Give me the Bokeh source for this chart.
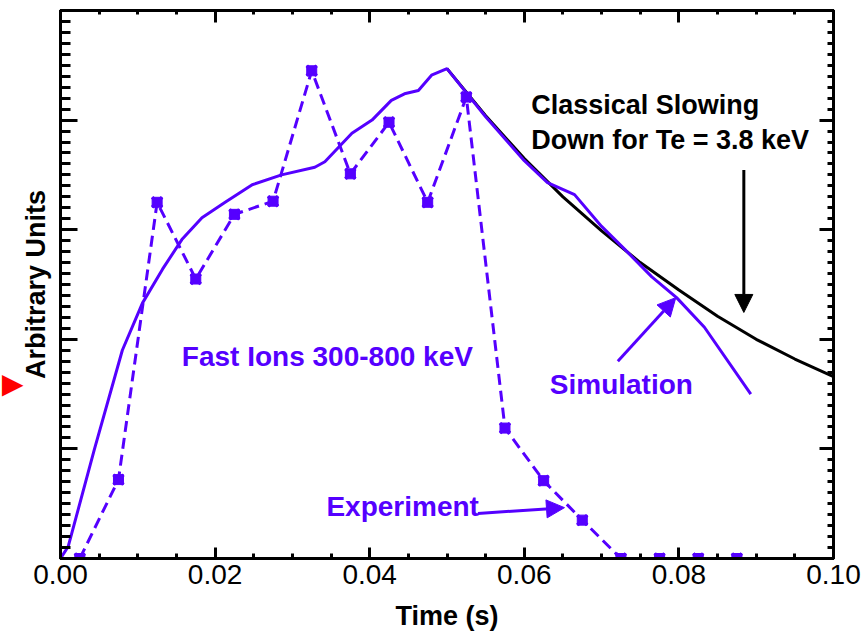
from bokeh.plotting import figure
from bokeh.models import (Range1d, LinearAxis, SingleIntervalTicker, NumeralTickFormatter,
                          CustomJSTickFormatter, Label, Arrow, NormalHead, Title)
from bokeh.embed import file_html
from bokeh.resources import INLINE

# ---- data ----
exp_t = [0.0025, 0.0075, 0.0125, 0.0175, 0.0225, 0.0275, 0.0325, 0.0375, 0.0425,
         0.0475, 0.0525, 0.0575, 0.0625, 0.0675, 0.0725, 0.0775, 0.0825, 0.0875]
exp_y = [0.0, 0.72, 3.25, 2.55, 3.14, 3.26, 4.45, 3.51, 3.98,
         3.25, 4.21, 1.19, 0.71, 0.35, 0.0, 0.0, 0.0, 0.0]

sim_t = [0.0, 0.001, 0.0044, 0.008, 0.0106, 0.0132, 0.0157, 0.0183, 0.0213, 0.0248,
         0.0286, 0.0329, 0.0342, 0.0377, 0.0403, 0.0428, 0.0445, 0.0463, 0.048, 0.05,
         0.055, 0.06, 0.063, 0.0665, 0.070, 0.073, 0.0765, 0.0797, 0.0833, 0.0893]
sim_y = [0.0, 0.11, 1.0, 1.9, 2.33, 2.64, 2.91, 3.11, 3.25, 3.41,
         3.5, 3.57, 3.62, 3.88, 4.0, 4.18, 4.24, 4.27, 4.41, 4.47,
         4.03, 3.63, 3.43, 3.32, 3.03, 2.82, 2.57, 2.38, 2.11, 1.5]

cls_t = [0.05, 0.055, 0.06, 0.065, 0.07, 0.075, 0.08, 0.085, 0.09, 0.095, 0.1]
cls_y = [4.47, 4.04, 3.65, 3.30, 2.99, 2.70, 2.45, 2.21, 2.00, 1.82, 1.66]

x_tick_format = "0.00"

PURPLE = "#5500ff"
FONT = "Liberation Sans"

p = figure(width=862, height=633, output_backend="svg", toolbar_location=None,
           x_range=Range1d(0, 0.1), y_range=Range1d(0, 5),
           min_border_left=58, min_border_right=29, min_border_top=10, min_border_bottom=73)
p.xgrid.visible = False
p.ygrid.visible = False
p.outline_line_color = "black"
p.outline_line_width = 3
p.outline_line_alpha = 1

blank = CustomJSTickFormatter(code="return ''")

def style_axis(ax, major_in, minor_in):
    ax.axis_line_width = 3
    ax.axis_line_color = "black"
    ax.major_tick_in = major_in
    ax.major_tick_out = 0
    ax.minor_tick_in = minor_in
    ax.minor_tick_out = 0
    ax.major_tick_line_width = 3
    ax.minor_tick_line_width = 3
    ax.major_tick_line_color = "black"
    ax.minor_tick_line_color = "black"

# bottom axis
xb = p.xaxis[0]
xb.ticker = SingleIntervalTicker(interval=0.02, num_minor_ticks=4)
xb.formatter = NumeralTickFormatter(format=x_tick_format)
style_axis(xb, 11, 5)
xb.major_label_text_font = FONT
xb.major_label_text_font_size = "28px"
xb.major_label_text_color = "black"
xb.major_label_standoff = 6
xb.axis_label = "Time (s)"
xb.axis_label_text_font = FONT
xb.axis_label_text_font_size = "27px"
xb.axis_label_text_font_style = "bold"
xb.axis_label_text_color = "black"
xb.axis_label_standoff = 14

# left axis
yl = p.yaxis[0]
yl.ticker = SingleIntervalTicker(interval=1, num_minor_ticks=10)
yl.formatter = blank
style_axis(yl, 17, 10)
yl.major_label_standoff = 0
yl.axis_label = "Arbitrary Units"
yl.axis_label_text_font = FONT
yl.axis_label_text_font_size = "27px"
yl.axis_label_text_font_style = "bold"
yl.axis_label_text_color = "black"
yl.axis_label_standoff = 10

# top axis
xt = LinearAxis(ticker=SingleIntervalTicker(interval=0.02, num_minor_ticks=4), formatter=blank)
style_axis(xt, 12, 4)
xt.major_label_standoff = 0
p.add_layout(xt, "above")

# right axis
yr = LinearAxis(ticker=SingleIntervalTicker(interval=1, num_minor_ticks=10), formatter=blank)
style_axis(yr, 14, 6)
yr.major_label_standoff = 0
p.add_layout(yr, "right")

# red arrow tip at the left edge
p.add_layout(Title(text="\u25bc", text_color="red", text_font="DejaVu Sans",
                   text_font_size="28px", align="left", offset=162, standoff=-18), "left")

# curves
p.line(cls_t, cls_y, line_color="black", line_width=3)
p.line(sim_t, sim_y, line_color=PURPLE, line_width=3)
p.line(exp_t, exp_y, line_color=PURPLE, line_width=3, line_dash="11 6")
p.scatter(exp_t, exp_y, marker="square", size=10, fill_color=PURPLE, line_color=PURPLE)
p.scatter(exp_t, exp_y, marker="x", size=14, line_color=PURPLE, line_width=3.5)

# text annotations
def lab(x, y, t, color, size="28px"):
    p.add_layout(Label(x=x, y=y, text=t, text_color=color, text_font=FONT,
                       text_font_size=size, text_font_style="bold",
                       text_baseline="middle", text_align="left"))

lab(0.0157, 1.84, "Fast Ions 300-800 keV", PURPLE)
lab(0.0633, 1.59, "Simulation", PURPLE)
lab(0.0344, 0.47, "Experiment", PURPLE)
lab(0.0609, 4.14, "Classical Slowing", "black", size="27px")
lab(0.0609, 3.82, "Down for Te = 3.8 keV", "black", size="27px")

# arrows
p.add_layout(Arrow(x_start=0.0884, y_start=3.545, x_end=0.0884, y_end=2.245,
                   line_color="black", line_width=3,
                   end=NormalHead(size=18, fill_color="black", line_color="black")))
p.add_layout(Arrow(x_start=0.0721, y_start=1.8, x_end=0.0796, y_end=2.38,
                   line_color=PURPLE, line_width=3,
                   end=NormalHead(size=18, fill_color=PURPLE, line_color=PURPLE)))
p.add_layout(Arrow(x_start=0.0540, y_start=0.41, x_end=0.0652, y_end=0.464,
                   line_color=PURPLE, line_width=3,
                   end=NormalHead(size=18, fill_color=PURPLE, line_color=PURPLE)))

open("out.html", "w").write(file_html(p, INLINE))
